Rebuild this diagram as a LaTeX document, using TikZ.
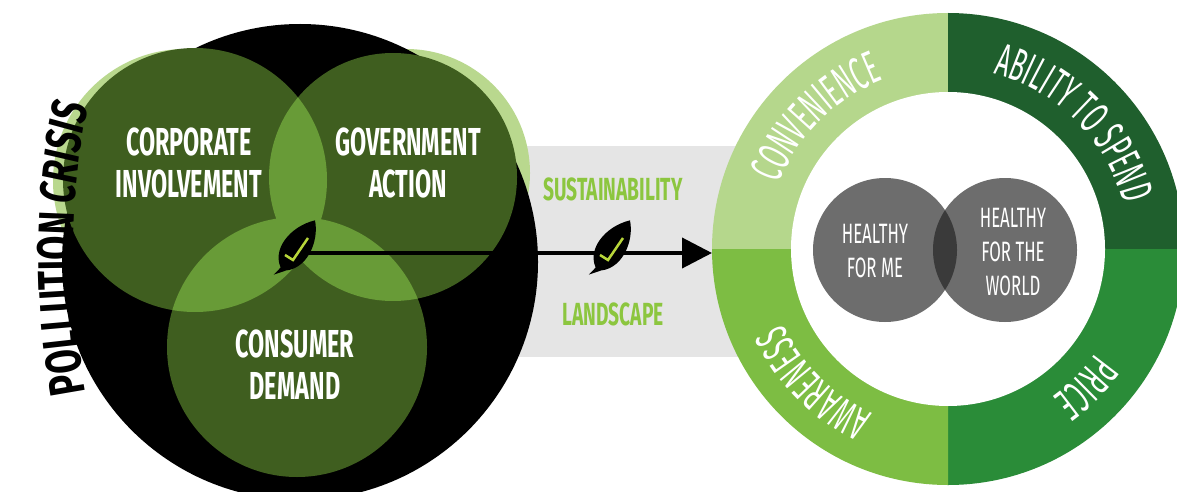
\documentclass[tikz,border=0pt]{standalone}
\usepackage{fontspec}
\usetikzlibrary{arrows.meta,decorations.text}
\newfontfamily\condfont{Fira Sans}[FakeStretch=0.6]
\newfontfamily\ringfam{Fira Sans}[FakeStretch=0.52]
\newfontfamily\pollfam{Fira Sans}[FakeStretch=0.7]
\newcommand\vennfont{\condfont\bfseries\fontsize{39}{42}\selectfont}
\newcommand\ringfont{\ringfam\fontsize{46}{46}\selectfont}
\newcommand\pollfont{\pollfam\bfseries\fontsize{50}{50}\selectfont}
\newcommand\healthfont{\condfont\fontsize{28}{34}\selectfont}
\newcommand\landfont{\condfont\bfseries\fontsize{32}{32}\selectfont}
\definecolor{venndark}{HTML}{3F5E1F}
\definecolor{vennlight}{HTML}{689B37}
\definecolor{halo}{HTML}{B9D88E}
\definecolor{conv}{HTML}{B5D78C}
\definecolor{spend}{HTML}{1F5F2D}
\definecolor{price}{HTML}{2A8C38}
\definecolor{aware}{HTML}{7DBD43}
\definecolor{landgray}{HTML}{E5E5E5}
\definecolor{healthgray}{HTML}{6D6D6D}
\definecolor{healthdark}{HTML}{3A3A3A}
\definecolor{susgreen}{HTML}{8CC63F}
\definecolor{tick}{HTML}{B8D63A}
\begin{document}
\begin{tikzpicture}[x=1pt, y=1pt,
  venn/.style = {text=white, align=center, font=\vennfont, inner sep=0pt},
  health/.style = {text=white, align=center, font=\healthfont, inner sep=0pt},
  land/.style = {text=susgreen, font=\landfont, inner sep=0pt},
  ringlabel/.style = {decorate, decoration={text along path,
    text align=center, text color=white, text={|\ringfont|#1}}},
  arrowline/.style = {line width=4pt, -{Triangle[length=30pt, width=30pt]}},
  leaf/.pic = {
    \begin{scope}[rotate=-33]
      \fill[black] (0,33) .. controls (15,18) and (21,-14) .. (0,-27)
        .. controls (-21,-17) and (-18,14) .. (0,33);
      \fill[black] (-3,-25) -- (-5,-35) -- (3,-25) -- cycle;
    \end{scope}
    \draw[tick, line width=2.5pt] (-12,-7) -- (-4,-12) -- (11,10);
  }]
  \useasboundingbox (0,0) rectangle (1177,491);
  \fill[white] (0,0) rectangle (1177,491);
  \coordinate (pollc) at (300,229);
  \coordinate (pollarc) at (823,236);
  \coordinate (corpc) at (195,311);
  \coordinate (govc) at (393,314);
  \coordinate (consc) at (297,144);
  \coordinate (ringc) at (948,242);
  \coordinate (mec) at (885,241);
  \coordinate (worldc) at (1005,241);
  % landscape band
  \fill[landgray] (505,134) rectangle (760,345);
  % pollution crisis circle with its three forces
  \fill[halo] (185,310) circle[radius=132];
  \fill[halo] (406,318) circle[radius=124];
  \fill[halo] (297,133) circle[radius=130];
  \fill[black] (pollc) circle[radius=238];
  \fill[venndark] (corpc) circle[radius=132];
  \fill[venndark] (govc) circle[radius=124];
  \fill[venndark] (consc) circle[radius=130];
  \begin{scope}
    \clip (corpc) circle[radius=132];
    \fill[vennlight] (govc) circle[radius=124];
    \fill[vennlight] (consc) circle[radius=130];
  \end{scope}
  \begin{scope}
    \clip (govc) circle[radius=124];
    \fill[vennlight] (consc) circle[radius=130];
  \end{scope}
  \path[decorate, decoration={text along path, text align=center,
    text={|\pollfont|POLLUTION |\pollfont\itshape|CRISIS}}]
    (pollarc) ++(193:750) arc[start angle=193, end angle=166, radius=750];
  \node[venn] (corp) at (189,328.5) {CORPORATE\\INVOLVEMENT};
  \node[venn] (gov) at (408,328.5) {GOVERNMENT\\ACTION};
  \node[venn] (cons) at (295,126) {CONSUMER\\DEMAND};
  % consumer ring
  \fill[conv] (ringc) -- ++(180:236) arc[start angle=180, end angle=90, radius=236] -- cycle;
  \fill[spend] (ringc) -- ++(90:236) arc[start angle=90, end angle=0, radius=236] -- cycle;
  \fill[price] (ringc) -- ++(0:236) arc[start angle=0, end angle=-90, radius=236] -- cycle;
  \fill[aware] (ringc) -- ++(-90:236) arc[start angle=-90, end angle=-180, radius=236] -- cycle;
  \fill[white] (ringc) circle[radius=157];
  \path[ringlabel=CONVENIENCE] (ringc) ++(180:181) arc[start angle=180, end angle=90, radius=181];
  \path[ringlabel={ABILITY TO SPEND}] (ringc) ++(90:181) arc[start angle=90, end angle=0, radius=181];
  \path[ringlabel=PRICE] (ringc) ++(0:181) arc[start angle=0, end angle=-90, radius=181];
  \path[ringlabel=AWARENESS] (ringc) ++(-90:181) arc[start angle=-90, end angle=-180, radius=181];
  \fill[healthgray] (mec) circle[radius=72];
  \fill[healthgray] (worldc) circle[radius=72];
  \begin{scope}
    \clip (mec) circle[radius=72];
    \fill[healthdark] (worldc) circle[radius=72];
  \end{scope}
  \node[health] (me) at (875,240) {HEALTHY\\FOR ME};
  \node[health] (world) at (1013,239) {HEALTHY\\FOR THE\\WORLD};
  % arrow through the landscape
  \coordinate (hub) at (297,238);
  \coordinate (mid) at (612,238);
  \coordinate (ringedge) at (712,238);
  \draw[arrowline] (hub) -- (ringedge);
  \pic at ([yshift=5pt]hub) {leaf};
  \pic at ([yshift=5pt]mid) {leaf};
  \node[land] (sust) at (613,302) {SUSTAINABILITY};
  \node[land] (land) at (613,177) {LANDSCAPE};
\end{tikzpicture}
\end{document}
